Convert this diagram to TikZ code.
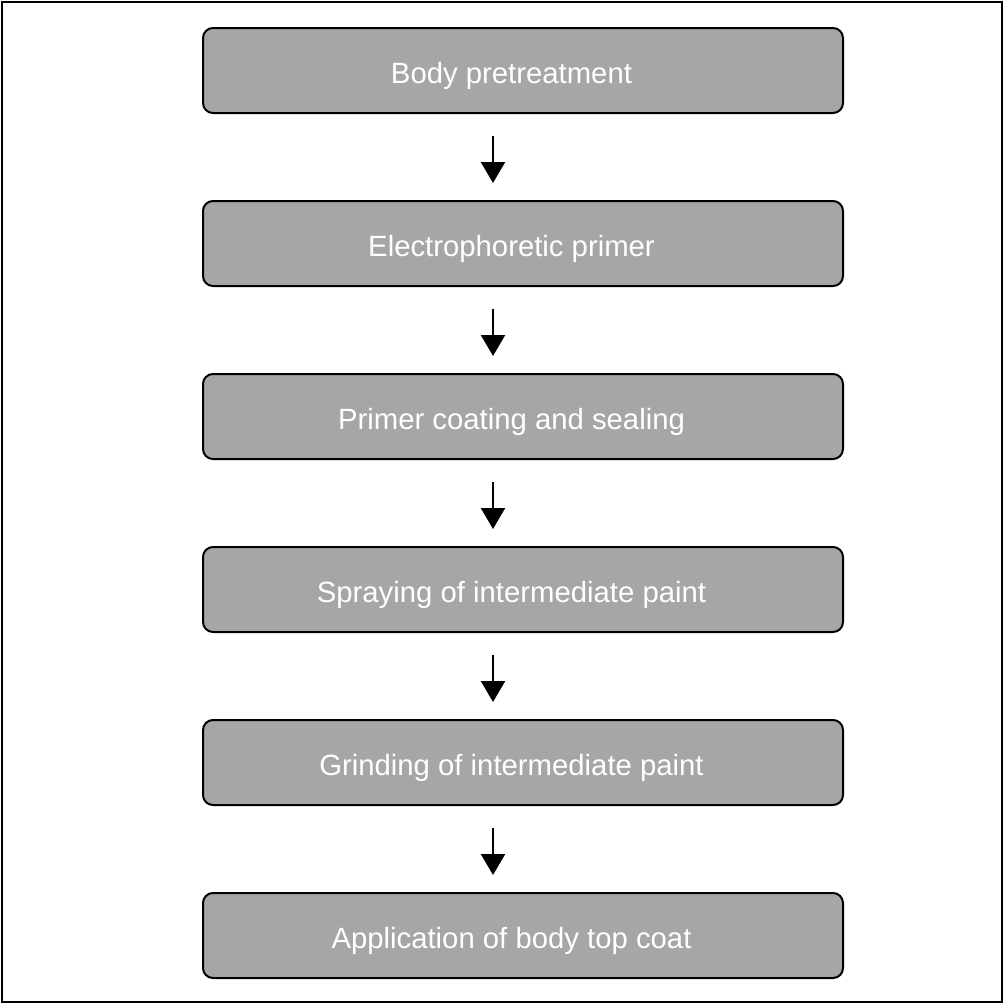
\documentclass[tikz,border=0pt]{standalone}
\usepackage{fontspec}
\setmainfont{Liberation Sans}
\usetikzlibrary{arrows.meta}
\begin{document}
\begin{tikzpicture}[x=1pt,y=-1pt,
  stepbox/.style={draw=black, line width=2pt, fill=boxgray, rounded corners=10pt,
    minimum width=640pt, minimum height=85pt, inner sep=0pt,
    text height=26pt, text depth=0pt,
    execute at begin node={\kern-23pt},
    font=\fontsize{29.3}{33}\selectfont, text=white},
  flow/.style={line width=2.2pt, -{Triangle[width=24pt,length=21pt]}}]
\definecolor{boxgray}{HTML}{A6A6A6}
\useasboundingbox (0,0) rectangle (1005,1004);
\draw[line width=2.5pt] (2,2) rectangle (1002,1002);
\node[stepbox] (s1) at (523,70.5) {Body pretreatment};
\node[stepbox] (s2) at (523,243.5) {Electrophoretic primer};
\node[stepbox] (s3) at (523,416.5) {Primer coating and sealing};
\node[stepbox] (s4) at (523,589.5) {Spraying of intermediate paint};
\node[stepbox] (s5) at (523,762.5) {Grinding of intermediate paint};
\node[stepbox] (s6) at (523,935.5) {Application of body top coat};
\foreach \a/\b in {s1/s2,s2/s3,s3/s4,s4/s5,s5/s6}{
  \draw[flow] ([xshift=-30pt,yshift=-22pt]\a.south) -- ([xshift=-30pt,yshift=17pt]\b.north);
}
\end{tikzpicture}
\end{document}
